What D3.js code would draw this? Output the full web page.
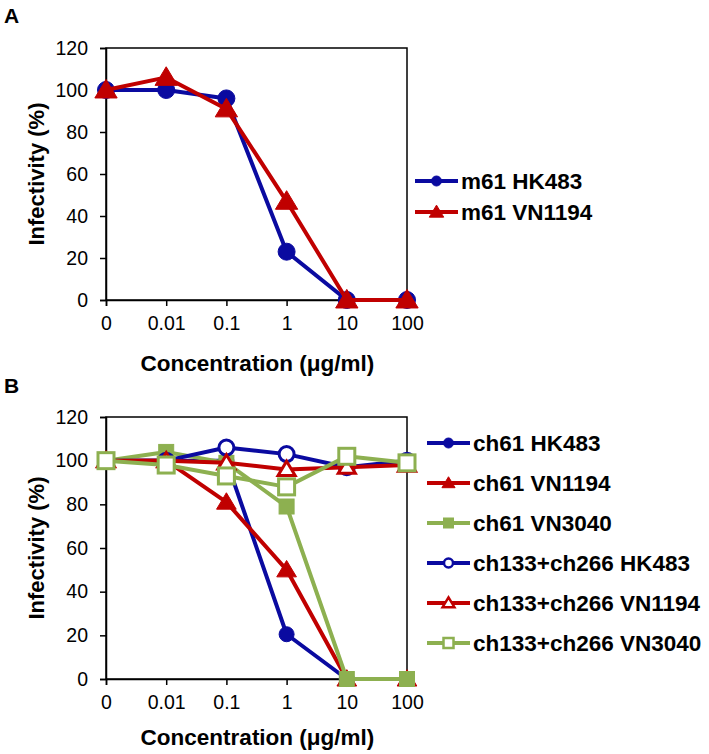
<!DOCTYPE html>
<html><head><meta charset="utf-8">
<script src="https://cdn.jsdelivr.net/npm/d3@7"></script>
<style>body{margin:0;background:#fff;}svg{display:block;font-family:"Liberation Sans",Arial,sans-serif;}</style>
</head><body>
<svg id="c" width="709" height="754"></svg>
<script>
const concentrations = ["0","0.01","0.1","1","10","100"];
const yTicks = [0,20,40,60,80,100,120];

const aNames = ["m61 HK483","m61 VN1194"];
const aHK483 = [100,100,96,23,0,0];
const aVN1194 = [100,106,91,47,0,0];

const bNames = ["ch61 HK483","ch61 VN1194","ch61 VN3040","ch133+ch266 HK483","ch133+ch266 VN1194","ch133+ch266 VN3040"];
const bCh61HK483 = [100,100,100,20.5,0,0];
const bCh61VN1194 = [100,100,81,50,0,0];
const bCh61VN3040 = [100,104,99,79,0,0];
const bComboHK483 = [100,100,106,103,97,100];
const bComboVN1194 = [100,100,99,96,97,98];
const bComboVN3040 = [100,98,93,88,102,99];

const BLUE="#0a0aa0", RED="#c00000", GREEN="#8db050";
const svg=d3.select("#c");

function marker(g,shape,filled,color,size,sw){
  let el;
  if(shape==="circle"){el=g.append("circle").attr("r",size);}
  else if(shape==="square"){el=g.append("rect").attr("x",-size).attr("y",-size).attr("width",2*size).attr("height",2*size);}
  else {const s=size*1.25;el=g.append("path").attr("d",`M0,${-s}L${s*1.05},${s*0.75}L${-s*1.05},${s*0.75}Z`);}
  if(filled){el.attr("fill",color).attr("stroke",color).attr("stroke-width",1);}
  else{el.attr("fill","#fff").attr("stroke",color).attr("stroke-width",sw);}
}

function panel(cfg){
  const {top,bottom,left,right,series,letter,letterY,titleOff,legendX,legendY,legendGap}=cfg;
  const x=d3.scalePoint().domain(concentrations).range([left,right]).padding(0);
  const y=d3.scaleLinear().domain([0,120]).range([bottom,top]);
  svg.append("text").attr("x",4).attr("y",letterY).attr("font-weight","bold").attr("font-size",21).text(letter);
  svg.append("rect").attr("x",left).attr("y",top).attr("width",right-left).attr("height",bottom-top)
    .attr("fill","none").attr("stroke","#000").attr("stroke-width",1.5);
  const ya=svg.append("g").attr("transform",`translate(${left},0)`)
    .call(d3.axisLeft(y).tickValues(yTicks).tickSize(6).tickPadding(12));
  const xa=svg.append("g").attr("transform",`translate(0,${bottom})`)
    .call(d3.axisBottom(x).tickSize(6).tickPadding(10));
  [ya,xa].forEach(a=>{a.select(".domain").attr("stroke","#000").attr("stroke-width",1.5);
    a.selectAll("line").attr("stroke","#000").attr("stroke-width",1.5);
    a.selectAll("text").attr("font-size",19.5).attr("fill","#000").attr("font-family","Liberation Sans, Arial, sans-serif");});
  svg.append("text").attr("x",(left+right)/2+1).attr("y",bottom+titleOff).attr("text-anchor","middle")
    .attr("font-weight","bold").attr("font-size",22.5).text("Concentration (\u03bcg/ml)");
  svg.append("text").attr("transform",`translate(44,${(top+bottom)/2}) rotate(-90)`).attr("text-anchor","middle")
    .attr("font-weight","bold").attr("font-size",22).text("Infectivity (%)");
  const line=d3.line().x((d,i)=>x(concentrations[i])).y(d=>y(d));
  series.forEach(s=>{
    svg.append("path").attr("d",line(s.values)).attr("fill","none").attr("stroke",s.color).attr("stroke-width",4).attr("stroke-linejoin","round");
    s.values.forEach((v,i)=>{
      const g=svg.append("g").attr("transform",`translate(${x(concentrations[i])},${y(v)})`);
      marker(g,s.shape,s.filled,s.color,s.size,s.sw||3);
    });
  });
  series.forEach((s,k)=>{
    const ly=legendY+k*legendGap;
    svg.append("line").attr("x1",legendX).attr("x2",legendX+43).attr("y1",ly).attr("y2",ly).attr("stroke",s.color).attr("stroke-width",4);
    const g=svg.append("g").attr("transform",`translate(${legendX+21.5},${ly})`);
    marker(g,s.shape,s.filled,s.color,s.lsize,2.5);
    svg.append("text").attr("x",legendX+46).attr("y",ly).attr("dy","0.36em").attr("font-weight","bold").attr("font-size",22.5).text(s.name);
  });
}

panel({top:48,bottom:300,left:106,right:407,letter:"A",letterY:23,titleOff:71,legendX:415,legendY:181,legendGap:31,
  series:[
    {name:aNames[0],values:aHK483,color:BLUE,shape:"circle",filled:true,size:8.5,lsize:5},
    {name:aNames[1],values:aVN1194,color:RED,shape:"triangle",filled:true,size:8.5,lsize:5.5}
  ]});

panel({top:417,bottom:679,left:106,right:407,letter:"B",letterY:393,titleOff:66,legendX:427,legendY:443,legendGap:40,
  series:[
    {name:bNames[0],values:bCh61HK483,color:BLUE,shape:"circle",filled:true,size:7.5,lsize:5},
    {name:bNames[1],values:bCh61VN1194,color:RED,shape:"triangle",filled:true,size:7.5,lsize:5},
    {name:bNames[2],values:bCh61VN3040,color:GREEN,shape:"square",filled:true,size:7.5,lsize:5},
    {name:bNames[3],values:bComboHK483,color:BLUE,shape:"circle",filled:false,size:7.5,lsize:4.5},
    {name:bNames[4],values:bComboVN1194,color:RED,shape:"triangle",filled:false,size:6.5,lsize:4.5},
    {name:bNames[5],values:bComboVN3040,color:GREEN,shape:"square",filled:false,size:8,lsize:5}
  ]});
</script>
</body></html>
